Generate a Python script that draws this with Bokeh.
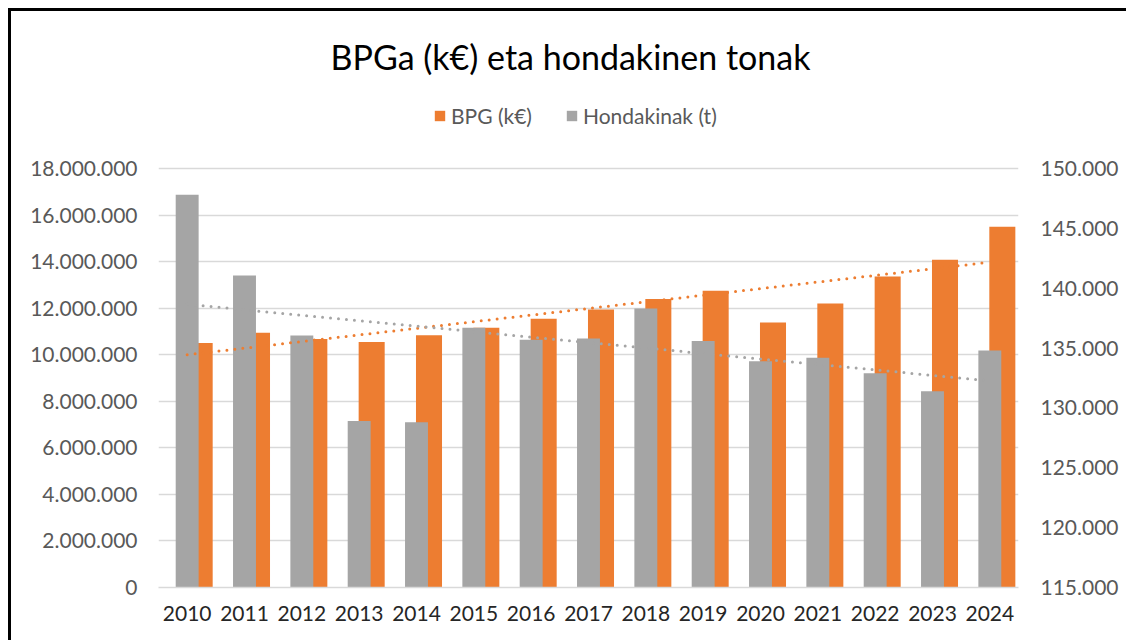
import numpy as np
from bokeh.plotting import figure
from bokeh.models import (Range1d, LinearAxis, FixedTicker, CustomJSTickFormatter,
                          Legend, LegendItem, FactorRange, Title)
from bokeh.transform import dodge
from bokeh.embed import file_html
from bokeh.resources import INLINE

# ---- data ----
years = [str(y) for y in range(2010, 2025)]
bpg_keur = [10500000, 10940000, 10680000, 10550000, 10840000, 11160000, 11540000,
            11940000, 12390000, 12750000, 11380000, 12200000, 13360000, 14080000, 15500000]
hondakinak_t = [147800, 141060, 136050, 128900, 128800, 136700, 135700, 135800,
                138300, 135600, 133900, 134200, 132900, 131400, 134800]
left_ticks = [0, 2000000, 4000000, 6000000, 8000000, 10000000, 12000000, 14000000,
              16000000, 18000000]
right_ticks = [115000, 120000, 125000, 130000, 135000, 140000, 145000, 150000]

title_text = "BPGa (k€) eta hondakinen tonak"
label_bpg = "BPG (k€)"
label_hond = "Hondakinak (t)"

ORANGE = "#ED7D31"
GRAY = "#A5A5A5"
GRID = "#D9D9D9"
TICK = "#595959"
FONT = "Lato"

# layout (pixels)
W, H = 1118, 632
MB_LEFT, MB_RIGHT, MB_TOP, MB_BOTTOM = 147, 111, 84, 56
FRAME_H = H - MB_TOP - MB_BOTTOM          # includes legend strip above the axes
AXIS_H = 419                               # height of the value area (0 .. 18M)
stretch = FRAME_H / AXIS_H

p = figure(x_range=FactorRange(*years),
           y_range=Range1d(left_ticks[0], left_ticks[0] + (left_ticks[-1] - left_ticks[0]) * stretch),
           width=W, height=H, output_backend="svg", toolbar_location=None,
           title=None, min_border_left=MB_LEFT, min_border_right=MB_RIGHT,
           min_border_bottom=MB_BOTTOM, min_border_top=MB_TOP)
p.extra_y_ranges = {"right": Range1d(right_ticks[0],
                                     right_ticks[0] + (right_ticks[-1] - right_ticks[0]) * stretch)}
p.margin = (8, 0, 0, 8)
p.styles = {"border-left": "3px solid black", "border-top": "3px solid black"}
p.outline_line_color = None
p.background_fill_color = "white"
p.border_fill_color = "white"

src = dict(years=years, bpg=bpg_keur, hond=hondakinak_t)

r_bpg = p.vbar(x=dodge("years", 0.218, range=p.x_range), top="bpg", bottom=0,
               width=0.454, source=src, fill_color=ORANGE, line_color=None)
r_hond = p.vbar(x="years", top="hond", bottom=right_ticks[0], width=0.40, source=src,
                fill_color=GRAY, line_color=None, y_range_name="right")

# linear trendlines (least-squares fits of the series)
idx = np.arange(len(years))
c1 = np.polyfit(idx, np.array(bpg_keur, dtype=float), 1)
c2 = np.polyfit(idx, np.array(hondakinak_t, dtype=float), 1)
ends = np.array([idx[0], idx[-1]])
p.line(x=[years[0], years[-1]], y=list(np.polyval(c1, ends)), line_color=ORANGE,
       line_width=3, line_dash="0 8", line_cap="round")
p.line(x=[years[0], years[-1]], y=list(np.polyval(c2, ends)), line_color=GRAY,
       line_width=3, line_dash="0 8", line_cap="round", y_range_name="right")

fmt = CustomJSTickFormatter(code="return Math.round(tick).toString().replace(/\\B(?=(\\d{3})+(?!\\d))/g, '.');")

# left axis
ax = p.yaxis[0]
ax.ticker = FixedTicker(ticks=left_ticks)
ax.formatter = fmt
ax.axis_line_color = None
ax.major_tick_line_color = None
ax.minor_tick_line_color = None
ax.major_label_text_font = FONT
ax.major_label_text_font_size = "21px"
ax.major_label_text_color = TICK
ax.major_label_standoff = 15

# right axis
ax2 = LinearAxis(y_range_name="right", ticker=FixedTicker(ticks=right_ticks), formatter=fmt)
ax2.axis_line_color = None
ax2.major_tick_line_color = None
ax2.minor_tick_line_color = None
ax2.major_label_text_font = FONT
ax2.major_label_text_font_size = "21px"
ax2.major_label_text_color = TICK
ax2.major_label_standoff = 16
p.add_layout(ax2, "right")

# x axis
xa = p.xaxis[0]
xa.axis_line_color = GRID
xa.axis_line_width = 1.5
xa.major_tick_line_color = None
xa.minor_tick_line_color = None
xa.major_label_text_font = FONT
xa.major_label_text_font_size = "21px"
xa.major_label_text_color = "#262626"
xa.major_label_standoff = 12
p.xgrid.grid_line_color = None
p.ygrid.grid_line_color = GRID
p.ygrid.grid_line_width = 1.5
p.ygrid.ticker = FixedTicker(ticks=left_ticks)

legend = Legend(items=[LegendItem(label=label_bpg, renderers=[r_bpg]),
                       LegendItem(label=label_hond, renderers=[r_hond])],
                orientation="horizontal", location=(275, FRAME_H - 33),
                label_text_font=FONT, label_text_font_size="21px",
                label_text_color=TICK, glyph_width=13, glyph_height=13,
                label_standoff=5, spacing=33, padding=0, margin=0,
                border_line_color=None, background_fill_alpha=0)
p.add_layout(legend, "center")

title = Title(text=title_text, align="left", offset=172, text_font=FONT,
              text_font_size="34px", text_font_style="normal",
              text_color="#000000", standoff=38)
p.add_layout(title, "above")

open("out.html", "w").write(file_html(p, INLINE))
